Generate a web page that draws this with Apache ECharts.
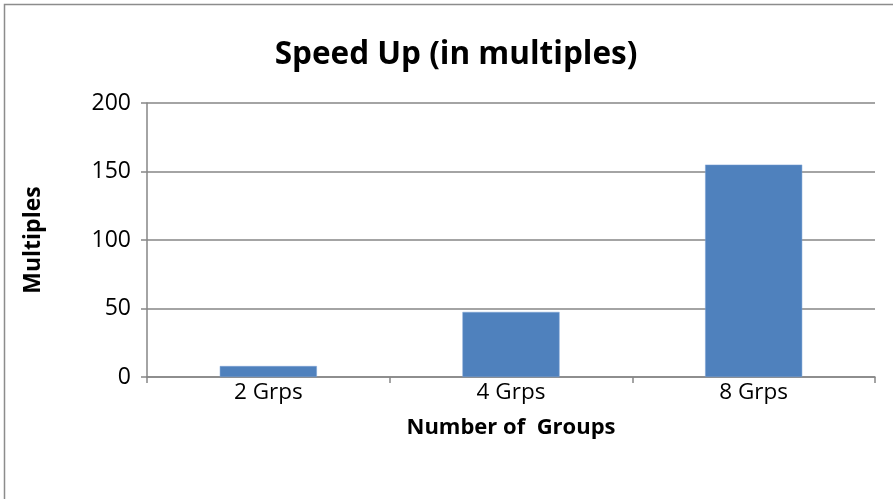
<!DOCTYPE html>
<html><head><meta charset="utf-8">
<script src="https://cdn.jsdelivr.net/npm/echarts@6/dist/echarts.min.js"></script>
<style>html,body{margin:0;padding:0;background:#fff}#c{width:893px;height:499px}</style>
</head><body><div id="c"></div>
<script>
var categories = ['2 Grps', '4 Grps', '8 Grps'];
var speedUp = [8, 47.5, 155];
var yTicks = [0, 50, 100, 150, 200];

var chart = echarts.init(document.getElementById('c'));
var font = '"Open Sans", "Noto Sans", sans-serif';
chart.setOption({
  animation: false,
  graphic: [{type: 'rect', shape: {x: 4.5, y: 4.5, width: 900, height: 520}, style: {fill: 'none', stroke: '#8c8c8c', lineWidth: 1.5}}],
  title: {text: 'Speed Up (in multiples)', left: 451, top: 34, textAlign: 'center',
    textStyle: {fontFamily: font, fontSize: 31.5, fontWeight: 'bold', color: '#000'}},
  grid: {left: 147, right: 18, top: 103, bottom: 122},
  xAxis: {type: 'category', data: categories,
    name: 'Number of  Groups', nameLocation: 'middle', nameGap: 40,
    nameTextStyle: {fontFamily: font, fontSize: 22, fontWeight: 'bold', color: '#000'},
    axisLine: {lineStyle: {color: '#868686', width: 1.5}},
    axisTick: {show: true, length: 6, lineStyle: {color: '#868686', width: 1.5}},
    axisLabel: {fontFamily: font, fontSize: 22.5, color: '#000', margin: 4}},
  yAxis: {type: 'value', min: yTicks[0], max: yTicks[yTicks.length - 1], interval: 50,
    name: 'Multiples', nameLocation: 'middle', nameGap: 102, nameRotate: 90,
    nameTextStyle: {fontFamily: font, fontSize: 23, fontWeight: 'bold', color: '#000'},
    axisLine: {show: true, lineStyle: {color: '#868686', width: 1.5}},
    axisTick: {show: true, length: 6, lineStyle: {color: '#868686', width: 1.5}},
    splitLine: {lineStyle: {color: '#868686', width: 1.5}},
    axisLabel: {fontFamily: font, fontSize: 23, color: '#000', margin: 16}},
  series: [{type: 'bar', data: speedUp, barWidth: '40%',
    itemStyle: {color: '#4f81bd', borderColor: '#7aa0d4', borderWidth: 0.5}}]
});
</script></body></html>
